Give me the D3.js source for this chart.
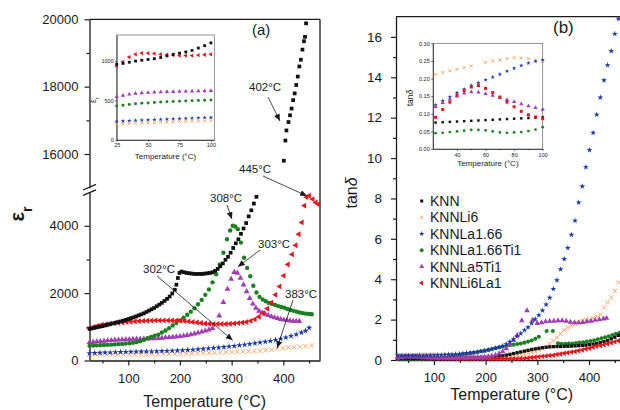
<!DOCTYPE html>
<html>
<head>
<meta charset="utf-8">
<script src="https://cdn.jsdelivr.net/npm/d3@7/dist/d3.min.js"></script>
<style>
  body { margin: 0; background: #fff; }
  text { font-family: "Liberation Sans", Arial, sans-serif; fill: #1a1a1a; }
</style>
</head>
<body>
<svg id="chart" width="620" height="410"></svg>
<script>
// ---- data ----
const seriesNames = ["KNN", "KNNLi6", "KNNLa1.66", "KNNLa1.66Ti1", "KNNLa5Ti1", "KNNLi6La1"];

// (a) permittivity, lower segment [T, eps]
const epsKNN = [[25,940],[30,955],[35,970],[40,990],[45,1005],[50,1020],[55,1040],[60,1060],[65,1080],[70,1100],[75,1120],[80,1140],[85,1160],[90,1180],[95,1205],[100,1230],[105,1255],[110,1280],[115,1310],[120,1340],[125,1370],[130,1400],[135,1440],[140,1480],[145,1520],[150,1560],[155,1610],[160,1660],[165,1710],[170,1770],[175,1830],[180,1900],[185,1990],[190,2100],[193,2250],[196,2450],[199,2600],[203,2640],[208,2620],[213,2600],[218,2590],[223,2580],[228,2570],[233,2570],[238,2570],[243,2570],[248,2580],[253,2590],[258,2600],[263,2620],[268,2660],[273,2720],[278,2800],[283,2880],[288,2990],[293,3080],[298,3200],[303,3340],[308,3480],[313,3600],[318,3760],[323,3920],[328,4080],[333,4280],[338,4460],[343,4660],[348,4860]];
// (a) KNN, upper segment
const epsKNNHigh = [[401,15800],[404,16400],[406,16700],[410,16950],[413,17150],[416,17350],[419,17600],[422,17800],[425,18050],[428,18300],[431,18600],[434,18800],[437,19100],[440,19350],[442,19480],[444,19880]];
const epsLi6 = [[25,180],[36,180],[47,180],[58,180],[69,180],[80,180],[91,180],[102,180],[113,181],[124,182],[135,183],[146,185],[157,187],[168,190],[179,193],[190,196],[201,200],[212,205],[223,210],[234,215],[245,220],[256,225],[267,231],[278,238],[289,245],[300,252],[311,258],[322,264],[333,270],[344,280],[355,290],[366,305],[377,325],[388,350],[399,370],[410,385],[421,395],[432,410],[443,425],[455,445]];
const epsLa166 = [[25,217],[35,222],[45,228],[55,234],[65,240],[75,246],[85,250],[95,254],[105,258],[115,261],[125,264],[135,266],[145,270],[155,275],[165,280],[175,285],[185,290],[195,295],[205,303],[215,312],[225,322],[235,333],[245,345],[255,357],[265,368],[275,382],[285,397],[295,413],[305,430],[315,450],[325,470],[335,490],[345,510],[355,532],[365,556],[375,582],[385,612],[395,648],[405,685],[415,728],[425,775],[435,830],[443,880],[450,970]];
const epsLa166Ti1 = [[25,440],[32,445],[39,450],[46,455],[53,460],[60,465],[67,470],[74,478],[81,485],[88,493],[95,502],[102,513],[109,528],[116,545],[123,570],[130,610],[137,660],[144,700],[151,740],[158,770],[165,830],[172,890],[179,960],[186,1040],[193,1110],[200,1190],[207,1270],[214,1360],[221,1450],[228,1550],[235,1670],[242,1800],[249,1950],[256,2110],[263,2320],[270,2560],[277,2850],[284,3200],[291,3600],[297,3860],[302,4000],[307,3980],[312,3900],[318,3500],[324,3050],[330,2750],[336,2500],[342,2220],[348,2020],[354,1890],[360,1810],[366,1760],[372,1710],[378,1680],[384,1650],[390,1615],[396,1590],[402,1565],[408,1530],[414,1500],[420,1475],[426,1450],[432,1425],[438,1405],[444,1390],[450,1382],[455,1375]];
const epsLa5Ti1 = [[25,540],[32,550],[39,560],[46,570],[53,580],[60,590],[67,600],[74,610],[81,615],[88,620],[95,625],[102,630],[109,635],[116,638],[123,640],[130,642],[137,645],[144,650],[151,655],[158,662],[165,670],[172,678],[179,686],[186,695],[193,705],[200,718],[207,732],[214,750],[221,770],[228,795],[235,820],[242,850],[249,880],[256,915],[263,955],[276,1330],[284,1730],[292,2120],[299,2420],[305,2620],[311,2600],[317,2450],[323,2250],[329,2050],[335,1850],[341,1680],[347,1560],[353,1470],[359,1420],[365,1380],[371,1340],[377,1305],[383,1275],[389,1250],[395,1225],[401,1205],[407,1190],[413,1180],[419,1172],[425,1168],[431,1165]];
const epsLi6La1 = [[25,960],[33,1000],[41,1035],[49,1060],[57,1080],[65,1095],[73,1110],[81,1120],[89,1130],[97,1140],[105,1150],[113,1160],[121,1170],[129,1175],[137,1180],[145,1185],[153,1190],[161,1190],[169,1190],[177,1190],[185,1188],[193,1185],[201,1180],[209,1170],[217,1160],[225,1145],[233,1130],[241,1115],[249,1100],[257,1090],[265,1085],[273,1082],[281,1082],[289,1085],[297,1090],[305,1100],[313,1110],[321,1125],[329,1145],[337,1175],[345,1220],[353,1300],[361,1400],[369,1540],[377,1720],[385,1950],[393,2200],[401,2520],[409,2850],[417,3150],[424,3420],[430,3750],[436,4100],[441,4600],[445,4850],[450,4890],[457,4790],[463,4690],[468,4640]];

// (a) inset, 25-100 °C
const insetT = [25,30,35,40,45,50,55,60,65,70,75,80,85,90,95,100];
const insEpsKNN = [960,970,985,1000,1010,1020,1030,1045,1065,1085,1100,1115,1135,1165,1195,1230];
const insEpsLi6 = [200,205,208,212,215,218,221,224,227,230,233,236,238,240,242,245];
const insEpsLa166 = [235,240,244,248,252,255,258,261,264,267,270,273,276,279,282,285];
const insEpsLa166Ti1 = [430,440,450,458,465,470,475,480,485,488,492,495,498,500,503,507];
const insEpsLa5Ti1 = [548,565,578,588,595,600,605,608,610,612,614,616,618,620,622,625];
const insEpsLi6La1 = [935,990,1050,1085,1100,1100,1095,1085,1080,1075,1070,1070,1070,1075,1080,1085];

// (b) loss tangent [T, tan d]
const tanKNN = [[30,.08],[37,.08],[44,.08],[51,.08],[58,.08],[65,.085],[72,.085],[79,.085],[86,.09],[93,.09],[100,.09],[107,.09],[114,.09],[121,.09],[128,.095],[135,.095],[142,.1],[149,.1],[156,.1],[163,.105],[170,.11],[177,.11],[184,.115],[191,.12],[198,.12],[205,.13],[212,.14],[219,.16],[226,.18],[233,.21],[240,.24],[247,.28],[254,.32],[261,.36],[268,.4],[275,.44],[282,.48],[289,.52],[296,.55],[303,.58],[310,.61],[317,.63],[324,.65],[331,.66],[338,.67],[345,.67],[352,.68],[359,.68],[366,.69],[373,.7],[380,.71],[387,.72],[394,.74],[401,.76],[408,.79],[415,.82],[422,.86],[429,.91],[436,.97],[443,1.05],[450,1.13],[457,1.22]];
const tanLi6 = [[30,.22],[37,.23],[44,.235],[51,.24],[58,.245],[65,.25],[72,.25],[79,.255],[86,.255],[93,.25],[100,.25],[107,.24],[114,.23],[121,.22],[128,.21],[135,.2],[142,.19],[149,.18],[156,.17],[163,.16],[170,.155],[177,.15],[184,.145],[191,.14],[198,.14],[205,.14],[212,.15],[219,.16],[226,.17],[233,.18],[240,.2],[247,.22],[254,.24],[261,.25],[268,.27],[275,.29],[282,.33],[289,.38],[296,.43],[303,.5],[310,.56],[317,.66],[324,.8],[331,.95],[338,1.12],[345,1.3],[352,1.48],[359,1.6],[366,1.7],[373,1.78],[380,1.86],[387,1.95],[394,1.99],[401,2.0],[408,2.07],[415,2.15],[422,2.25],[429,2.6],[436,2.85],[443,3.1],[450,3.42],[457,3.85]];
const tanLa166 = [[30,.22],[37,.22],[44,.22],[51,.22],[58,.22],[65,.22],[72,.225],[79,.23],[86,.23],[93,.235],[100,.24],[107,.245],[114,.25],[121,.26],[128,.27],[135,.28],[142,.29],[149,.3],[156,.32],[163,.33],[170,.35],[177,.37],[184,.4],[191,.43],[198,.46],[205,.5],[212,.54],[219,.59],[226,.64],[233,.7],[240,.78],[247,.9],[254,1.03],[261,1.17],[268,1.32],[275,1.48],[282,1.62],[289,1.82],[296,2.02],[303,2.22],[310,2.45],[317,2.75],[324,3.08],[331,3.52],[338,3.95],[345,4.49],[352,5.0],[359,5.55],[366,6.2],[373,6.9],[380,7.8],[387,8.6],[394,9.55],[401,10.4],[408,11.25],[415,12.15],[422,13.0],[429,13.85],[436,14.6],[443,15.3],[450,16.15],[457,16.9]];
const tanLa166Ti1 = [[30,.05],[37,.05],[44,.05],[51,.05],[58,.05],[65,.05],[72,.05],[79,.055],[86,.06],[93,.06],[100,.07],[107,.08],[114,.1],[121,.12],[128,.15],[135,.18],[142,.21],[149,.25],[156,.28],[163,.31],[170,.34],[177,.37],[184,.4],[191,.43],[198,.46],[205,.5],[212,.54],[219,.58],[226,.62],[233,.66],[240,.7],[247,.73],[254,.76],[261,.79],[268,.82],[275,.86],[282,.91],[289,.97],[296,1.05],[303,1.15],[318,1.44],[330,1.44],[340,.83],[347,.8],[354,.8],[361,.81],[368,.82],[375,.84],[382,.86],[389,.88],[396,.91],[403,.94],[410,.98],[417,1.02],[424,1.07],[431,1.12],[438,1.18],[445,1.24],[452,1.3],[459,1.35]];
const tanLa5Ti1 = [[30,.12],[37,.13],[44,.15],[51,.16],[58,.155],[65,.15],[72,.14],[79,.135],[86,.13],[93,.12],[100,.115],[107,.11],[114,.11],[121,.11],[128,.11],[135,.11],[142,.11],[149,.115],[156,.12],[163,.12],[170,.125],[177,.13],[184,.135],[191,.14],[198,.15],[205,.17],[212,.2],[219,.25],[226,.32],[233,.42],[240,.56],[247,.76],[254,.98],[261,1.22],[270,1.95],[280,2.45],[291,1.98],[300,1.82],[308,1.85],[316,1.9],[324,1.92],[332,1.93],[340,1.95],[348,1.95],[356,1.93],[364,1.88],[372,1.85],[380,1.85],[388,1.87],[396,1.9],[404,1.93],[412,1.97],[420,2.0],[428,2.04],[434,2.07]];
const tanLi6La1 = [[30,.1],[37,.13],[44,.16],[51,.176],[58,.172],[65,.16],[72,.145],[79,.125],[86,.105],[93,.095],[100,.085],[107,.08],[114,.08],[121,.075],[128,.075],[135,.07],[142,.07],[149,.07],[156,.065],[163,.065],[170,.065],[177,.06],[184,.06],[191,.06],[198,.06],[205,.06],[212,.06],[219,.06],[226,.06],[233,.06],[240,.06],[247,.06],[254,.065],[261,.065],[268,.07],[275,.08],[282,.1],[289,.12],[296,.14],[303,.16],[310,.18],[317,.2],[324,.22],[331,.24],[338,.27],[345,.3],[352,.33],[359,.36],[366,.39],[373,.42],[380,.46],[387,.5],[394,.54],[401,.58],[408,.63],[415,.68],[422,.72],[429,.76],[436,.8],[443,.85],[450,.9],[457,.95]];

// (b) inset, 25-100 °C (one point missing near 55 °C for KNNLi6)
const insTanKNN = [.075,.076,.077,.078,.079,.080,.081,.082,.083,.084,.085,.086,.087,.088,.089,.090];
const insTanLi6 = [.212,.217,.222,.226,.231,.236,null,.246,.250,.253,.256,.259,.258,.256,.252,.248];
const insTanLa166 = [.125,.137,.148,.160,.170,.180,.188,.196,.204,.212,.221,.229,.237,.244,.249,.253];
const insTanLa166Ti1 = [.045,.046,.048,.050,.052,.054,.054,.053,.050,.047,.046,.047,.048,.051,.055,.062];
const insTanLa5Ti1 = [.120,.131,.141,.150,.158,.162,.161,.157,.152,.146,.140,.134,.128,.122,.117,.112];
const insTanLi6La1 = [.090,.112,.133,.153,.166,.176,.180,.172,.160,.147,.133,.120,.107,.097,.091,.086];

const annoLabels = ["302°C", "303°C", "383°C", "308°C", "445°C", "402°C"];
const annoTargets = [[302, 600, "low"], [312, 2780, "low"], [388, 370, "low"], [300.5, 4200, "low"], [446, 4885, "low"], [393.5, 16980, "high"]];

// ---- styles / layout ----
const col = { KNN: "#111", Li6: "#ff9c52", La166: "#1c3aa9", La166Ti1: "#1a8020", La5Ti1: "#a23db5", Li6La1: "#e4161c" };
const annoLayout = [
  { tx: 143, ty: 273, ax: 157, ay: 276 },
  { tx: 258, ty: 248, ax: 260, ay: 250 },
  { tx: 285, ty: 298, ax: 293, ay: 300 },
  { tx: 210, ty: 202, ax: 227, ay: 205 },
  { tx: 239, ty: 173, ax: 263, ay: 176 },
  { tx: 249, ty: 91, ax: 268, ay: 97 }
];

const svg = d3.select("#chart");
const ink = "#1a1a1a";

svg.append("defs").append("marker")
  .attr("id", "arrow").attr("markerUnits", "userSpaceOnUse")
  .attr("viewBox", "0 0 7 6").attr("refX", 7).attr("refY", 3)
  .attr("markerWidth", 7).attr("markerHeight", 6).attr("orient", "auto")
  .append("path").attr("d", "M0,0L7,3L0,6z").attr("fill", ink);

const symbolFor = { square: d3.symbolSquare, circle: d3.symbolCircle, star: d3.symbolStar, triangle: d3.symbolTriangle, left: d3.symbolTriangle };

function marks(g, pts, x, y, kind, color, size) {
  const sel = g.append("g").selectAll("path").data(pts.filter(d => d[1] != null)).enter().append("path")
    .attr("transform", d => `translate(${x(d[0])},${y(d[1])})` + (kind === "left" ? " rotate(-90)" : ""));
  if (kind === "cross") {
    const a = Math.sqrt(size) / 2;
    sel.attr("d", `M${-a},${-a}L${a},${a}M${-a},${a}L${a},${-a}`)
      .attr("fill", "none").attr("stroke", color).attr("stroke-width", 0.9);
  } else {
    sel.attr("d", d3.symbol(symbolFor[kind], size)()).attr("fill", color);
  }
}

function styleAxis(g, fs, sw) {
  g.attr("font-family", null);
  g.selectAll("path.domain").attr("stroke", ink).attr("stroke-width", sw || 1.3);
  g.selectAll(".tick line").attr("stroke", ink).attr("stroke-width", (sw || 1.3) * 0.9);
  g.selectAll(".tick text").attr("font-size", fs).attr("fill", ink);
}

function axis(g, gen, tx, ty, fs, sw) {
  const a = g.append("g").attr("transform", `translate(${tx},${ty})`).call(gen);
  styleAxis(a, fs, sw);
  return a;
}

function minor(g, gen, tx, ty, sw) {
  const a = g.append("g").attr("transform", `translate(${tx},${ty})`).call(gen.tickFormat(""));
  a.select("path.domain").remove();
  styleAxis(a, 1, sw);
}

function line(g, x1, y1, x2, y2, w, c) {
  g.append("line").attr("x1", x1).attr("y1", y1).attr("x2", x2).attr("y2", y2)
    .attr("stroke", c || ink).attr("stroke-width", w);
}

// ================= panel (a) =================
const A = { left: 89.5, right: 320, top: 19.3, bottom: 360.5, brLo: 192.1, brHi: 187.7 };
const xA = d3.scaleLinear().domain([24.9, 471]).range([A.left, A.right]);
const yALo = d3.scaleLinear().domain([0, 5000]).range([A.bottom, A.brLo]);
const yAHi = d3.scaleLinear().domain([15000, 20000]).range([A.brHi, A.top]);
const ga = svg.append("g");

axis(ga, d3.axisBottom(xA).tickValues([100, 200, 300, 400]).tickSize(5).tickPadding(8).tickSizeOuter(0), 0, A.bottom, 13);
minor(ga, d3.axisBottom(xA).tickValues([50, 150, 250, 350, 450]).tickSize(3), 0, A.bottom);
axis(ga, d3.axisLeft(yALo).tickValues([0, 2000, 4000]).tickFormat(d3.format("d")).tickSize(5).tickPadding(6).tickSizeOuter(0), A.left, 0, 13);
minor(ga, d3.axisLeft(yALo).tickValues([1000, 3000]).tickSize(3), A.left, 0);
axis(ga, d3.axisLeft(yAHi).tickValues([16000, 18000, 20000]).tickFormat(d3.format("d")).tickSize(5).tickPadding(6).tickSizeOuter(0), A.left, 0, 13);
minor(ga, d3.axisLeft(yAHi).tickValues([17000, 19000]).tickSize(3), A.left, 0);
line(ga, A.left, A.top, A.right, A.top, 1.3);
line(ga, A.right, A.top, A.right, A.bottom, 1.3);
// axis break marks
[A.brHi - 0.5, A.brLo + 0.5].forEach(yb => line(ga, A.left - 6.5, yb + 2.8, A.left + 6.5, yb - 2.8, 1.3));

const sA = 15;
marks(ga, epsLi6, xA, yALo, "cross", col.Li6, 20);
marks(ga, epsLa166, xA, yALo, "star", col.La166, 12);
marks(ga, epsLa5Ti1, xA, yALo, "triangle", col.La5Ti1, sA);
marks(ga, epsLa166Ti1, xA, yALo, "circle", col.La166Ti1, sA);
marks(ga, epsLi6La1, xA, yALo, "left", col.Li6La1, sA);
marks(ga, epsKNN, xA, yALo, "square", col.KNN, 14);
marks(ga, epsKNNHigh, xA, yAHi, "square", col.KNN, 14);

annoLabels.forEach((lab, i) => {
  const t = annoTargets[i], L = annoLayout[i];
  const yS = t[2] === "high" ? yAHi : yALo;
  ga.append("text").attr("x", L.tx).attr("y", L.ty).attr("font-size", 11.5).text(lab);
  ga.append("line").attr("x1", L.ax).attr("y1", L.ay).attr("x2", xA(t[0])).attr("y2", yS(t[1]))
    .attr("stroke", ink).attr("stroke-width", 0.8).attr("marker-end", "url(#arrow)");
});

ga.append("text").attr("x", 252).attr("y", 35).attr("font-size", 15).text("(a)");
ga.append("text").attr("x", (A.left + A.right) / 2).attr("y", 407).attr("text-anchor", "middle")
  .attr("font-size", 16).text("Temperature (°C)");
const epsLab = ga.append("text").attr("transform", "translate(23.5,214) rotate(-90)").attr("text-anchor", "middle");
epsLab.append("tspan").attr("font-size", 20).attr("font-weight", "bold").text("ε");
epsLab.append("tspan").attr("font-size", 14).attr("font-weight", "bold").attr("dy", 8).text("r");

// inset (a)
const IA = { left: 116.7, right: 214.3, top: 35, bottom: 140 };
const xIA = d3.scaleLinear().domain([25, 102.7]).range([IA.left, IA.right]);
const yIA = d3.scaleLinear().domain([0, 1330]).range([IA.bottom, IA.top]);
const gia = svg.append("g");
gia.append("rect").attr("x", IA.left).attr("y", IA.top).attr("width", IA.right - IA.left).attr("height", IA.bottom - IA.top)
  .attr("fill", "#fff").attr("stroke", "#666").attr("stroke-width", 0.7);
axis(gia, d3.axisBottom(xIA).tickValues([25, 50, 75, 100]).tickSize(1.5).tickPadding(1.5).tickSizeOuter(0), 0, IA.bottom, 5.5, 0.7);
axis(gia, d3.axisLeft(yIA).tickValues([0, 500, 1000]).tickFormat(d3.format("d")).tickSize(1.5).tickPadding(1.5).tickSizeOuter(0), IA.left, 0, 5.5, 0.7);
const zipA = v => insetT.map((t, i) => [t, v[i]]);
marks(gia, zipA(insEpsLi6), xIA, yIA, "cross", col.Li6, 9);
marks(gia, zipA(insEpsLa166), xIA, yIA, "star", col.La166, 6);
marks(gia, zipA(insEpsLa166Ti1), xIA, yIA, "circle", col.La166Ti1, 7);
marks(gia, zipA(insEpsLa5Ti1), xIA, yIA, "triangle", col.La5Ti1, 8);
marks(gia, zipA(insEpsLi6La1), xIA, yIA, "left", col.Li6La1, 8);
marks(gia, zipA(insEpsKNN), xIA, yIA, "square", col.KNN, 8);
gia.append("text").attr("x", (IA.left + IA.right) / 2).attr("y", 159).attr("text-anchor", "middle").attr("font-size", 8).text("Temperature (°C)");
const iaLab = gia.append("text").attr("transform", "translate(96,100) rotate(-90)").attr("text-anchor", "middle");
iaLab.append("tspan").attr("font-size", 9).text("ε");
iaLab.append("tspan").attr("font-size", 6).attr("dy", 2.5).text("r");

// ================= panel (b) =================
const B = { left: 396, right: 640, top: 16.7, bottom: 360 };
const xB = d3.scaleLinear().domain([26.5, 498.7]).range([B.left, B.right]);
const yB = d3.scaleLinear().domain([0, 17]).range([B.bottom, B.top]);
const gb = svg.append("g");

axis(gb, d3.axisBottom(xB).tickValues([100, 200, 300, 400]).tickSize(5).tickPadding(8).tickSizeOuter(0), 0, B.bottom, 13);
minor(gb, d3.axisBottom(xB).tickValues([50, 150, 250, 350, 450]).tickSize(3), 0, B.bottom);
axis(gb, d3.axisLeft(yB).tickValues(d3.range(0, 17, 2)).tickSize(5).tickPadding(9).tickSizeOuter(0), B.left, 0, 13.5);
minor(gb, d3.axisLeft(yB).tickValues(d3.range(1, 17, 2)).tickSize(3), B.left, 0);
line(gb, B.left, B.top, B.right, B.top, 1.3);

marks(gb, tanLi6, xB, yB, "cross", col.Li6, 18);
marks(gb, tanLa166Ti1, xB, yB, "circle", col.La166Ti1, 13);
marks(gb, tanKNN, xB, yB, "square", col.KNN, 11);
marks(gb, tanLi6La1, xB, yB, "left", col.Li6La1, 13);
marks(gb, tanLa5Ti1, xB, yB, "triangle", col.La5Ti1, 14);
marks(gb, tanLa166, xB, yB, "star", col.La166, 11);

gb.append("text").attr("x", 553).attr("y", 33).attr("font-size", 17).text("(b)");
gb.append("text").attr("x", 511.7).attr("y", 400).attr("text-anchor", "middle").attr("font-size", 16).text("Temperature (°C)");
const tanLab = gb.append("text").attr("transform", "translate(357,193) rotate(-90)").attr("text-anchor", "middle").attr("font-size", 16);
tanLab.append("tspan").text("tan");
tanLab.append("tspan").attr("font-style", "italic").text("δ");

// legend
const legKinds = [["square", col.KNN, 9], ["cross", col.Li6, 12], ["star", col.La166, 9], ["circle", col.La166Ti1, 11], ["triangle", col.La5Ti1, 11], ["left", col.Li6La1, 11]];
const legY = d3.scalePoint().domain(seriesNames).range([201, 283]);
seriesNames.forEach((name, i) => {
  const k = legKinds[i];
  marks(gb, [[0, name]], () => 421.7, legY, k[0], k[1], k[2]);
  gb.append("text").attr("x", 430).attr("y", legY(name) + 5).attr("font-size", 14).text(name);
});

// inset (b)
const IB = { left: 433, right: 542.7, top: 43.3, bottom: 149 };
const xIB = d3.scaleLinear().domain([23.2, 100]).range([IB.left, IB.right]);
const yIB = d3.scaleLinear().domain([0, 0.30]).range([IB.bottom, IB.top]);
const gib = svg.append("g");
gib.append("rect").attr("x", IB.left).attr("y", IB.top).attr("width", IB.right - IB.left).attr("height", IB.bottom - IB.top)
  .attr("fill", "#fff").attr("stroke", "#666").attr("stroke-width", 0.7);
axis(gib, d3.axisBottom(xIB).tickValues([40, 60, 80, 100]).tickSize(1.8).tickPadding(2).tickSizeOuter(0), 0, IB.bottom, 5.5, 0.7);
minor(gib, d3.axisBottom(xIB).tickValues([30, 50, 70, 90]).tickSize(1.2), 0, IB.bottom, 0.7);
axis(gib, d3.axisLeft(yIB).tickValues(d3.range(0, 0.31, 0.05)).tickFormat(d3.format(".2f")).tickSize(1.8).tickPadding(1.5).tickSizeOuter(0), IB.left, 0, 5.5, 0.7);
const zipB = v => insetT.map((t, i) => [t, v[i]]);
marks(gib, zipB(insTanLi6), xIB, yIB, "cross", col.Li6, 9);
marks(gib, zipB(insTanLa166), xIB, yIB, "star", col.La166, 6);
marks(gib, zipB(insTanLa166Ti1), xIB, yIB, "circle", col.La166Ti1, 6);
marks(gib, zipB(insTanKNN), xIB, yIB, "square", col.KNN, 6);
marks(gib, zipB(insTanLa5Ti1), xIB, yIB, "triangle", col.La5Ti1, 8);
marks(gib, zipB(insTanLi6La1), xIB, yIB, "square", col.Li6La1, 9);
gib.append("text").attr("x", (IB.left + IB.right) / 2).attr("y", 166).attr("text-anchor", "middle").attr("font-size", 8).text("Temperature (°C)");
const ibLab = gib.append("text").attr("transform", "translate(413,98) rotate(-90)").attr("text-anchor", "middle").attr("font-size", 8.5);
ibLab.append("tspan").text("tan");
ibLab.append("tspan").attr("font-style", "italic").text("δ");
</script>
</body>
</html>
